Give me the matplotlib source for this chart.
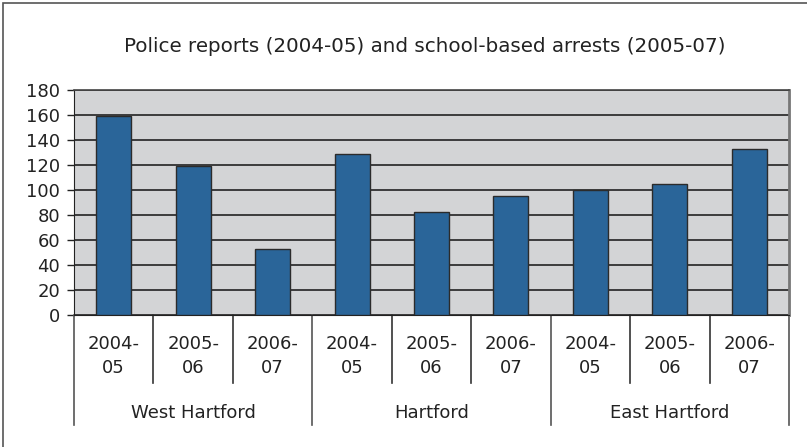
import numpy as np
import matplotlib.pyplot as plt
import matplotlib.transforms as mtransforms
from matplotlib.patches import Rectangle

# data
towns = ['West Hartford', 'Hartford', 'East Hartford']
years = ['2004-\n05', '2005-\n06', '2006-\n07']
west_hartford = [159, 119, 53]
hartford = [129, 82, 95]
east_hartford = [100, 105, 133]
yticks = [0, 20, 40, 60, 80, 100, 120, 140, 160, 180]

values = west_hartford + hartford + east_hartford
labels = years * len(towns)
x = np.arange(len(values))

W, H = 807, 447
fig = plt.figure(figsize=(W / 100, H / 100), dpi=100)

# outer frame of the picture
fig.patches.append(Rectangle((3 / W, -0.01), 1.0, 1 - 3 / H - (-0.01),
                             transform=fig.transFigure, fill=False,
                             edgecolor='#555555', linewidth=1.2))

ax = fig.add_axes([74 / W, 1 - 315 / H, (789 - 74) / W, 225 / H])
ax.set_facecolor('#d3d4d6')
ax.bar(x, values, width=0.44, color='#2a6599', edgecolor='#2b2b2b',
       linewidth=1.0, zorder=3)

ax.set_xlim(-0.5, len(values) - 0.5)
ax.set_ylim(0, 180)
ax.set_yticks(yticks)
ax.tick_params(axis='y', labelsize=13, length=5, width=1, direction='out',
               pad=5, colors='#222222')
ax.set_xticks([])
ax.yaxis.grid(True, color='#222222', linewidth=1.2, zorder=1)
ax.set_axisbelow(True)

ax.spines['left'].set_color('#222222')
ax.spines['bottom'].set_color('#222222')
ax.spines['top'].set_color('#444444')
ax.spines['right'].set_color('#777777')
ax.spines['right'].set_linewidth(2)
ax.spines['top'].set_linewidth(1.2)

# two-level category axis
trans = mtransforms.blended_transform_factory(ax.transData, ax.transAxes)
px = 1 / 225  # one pixel in axes units (vertically)
for i in range(len(values) + 1):
    xb = i - 0.5
    if i % 3 == 0:
        y_end = -(425 - 315) * px
        col = '#555555'
    else:
        y_end = -(383 - 315) * px
        col = '#333333'
    ax.plot([xb, xb], [0, y_end], transform=trans, color=col,
            linewidth=1.2, clip_on=False)

for i, lab in enumerate(labels):
    ax.text(x[i], -(356 - 315) * px, lab, transform=trans, ha='center',
            va='center', fontsize=13, color='#222222', linespacing=1.45)

for g, town in enumerate(towns):
    ax.text(g * 3 + 1, -(413 - 315) * px, town, transform=trans,
            ha='center', va='center', fontsize=13, color='#222222')

fig.text(425 / W, 1 - 46 / H,
         'Police reports (2004-05) and school-based arrests (2005-07)',
         ha='center', va='center', fontsize=14.3, color='#222222')

fig.savefig('out.png', dpi=100)
